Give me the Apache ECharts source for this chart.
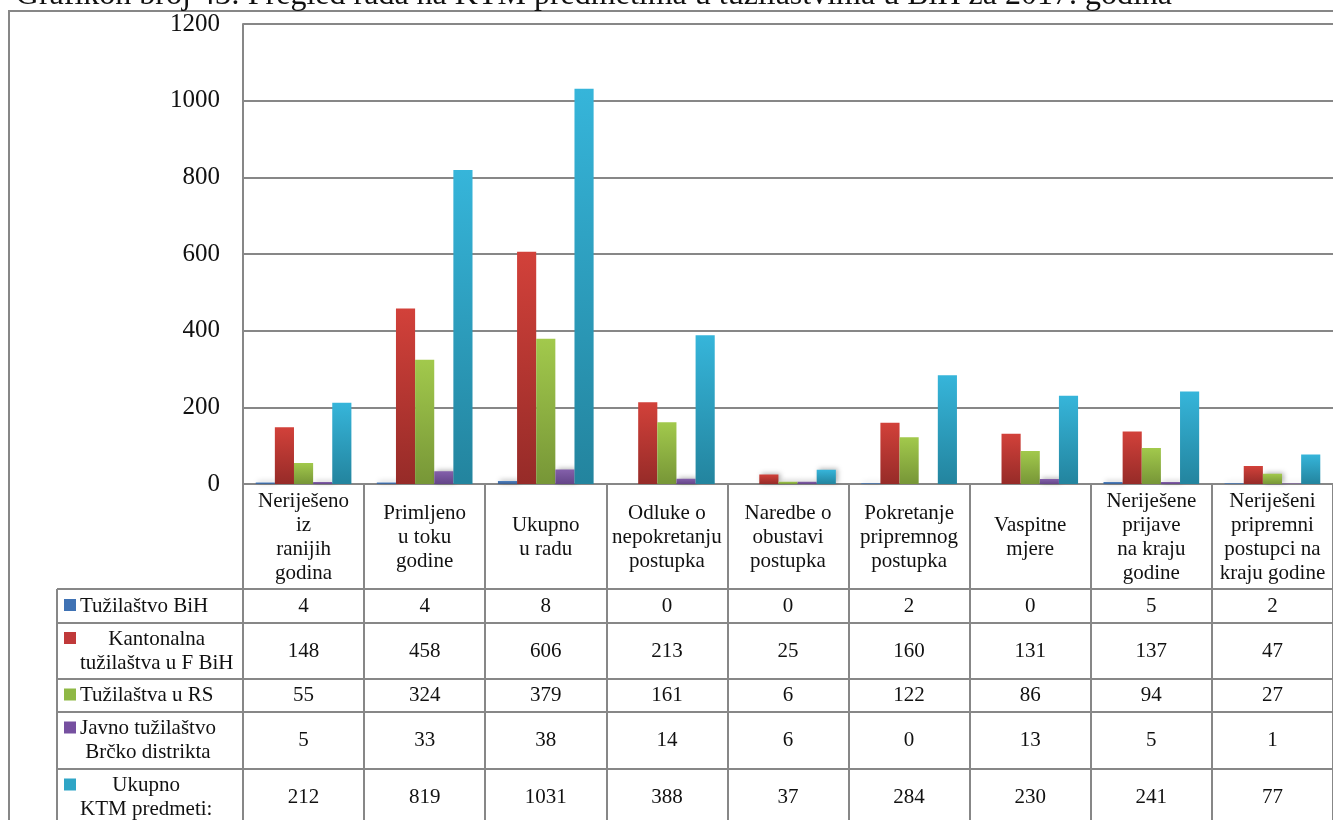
<!DOCTYPE html>
<html>
<head>
<meta charset="utf-8">
<script src="https://cdn.jsdelivr.net/npm/echarts@6/dist/echarts.min.js"></script>
<style>
html,body{margin:0;padding:0;background:#fff;}
#c{width:1333px;height:820px;}
</style>
</head>
<body>
<div id="c"></div>
<script>
// ---- data ----
const titleText = 'Grafikon broj 43: Pregled rada na KTM predmetima u tužilaštvima u BiH za 2017. godina';
const categories = [
  'Neriješeno\niz\nranijih\ngodina',
  'Primljeno\nu toku\ngodine',
  'Ukupno\nu radu',
  'Odluke o\nnepokretanju\npostupka',
  'Naredbe o\nobustavi\npostupka',
  'Pokretanje\npripremnog\npostupka',
  'Vaspitne\nmjere',
  'Neriješene\nprijave\nna kraju\ngodine',
  'Neriješeni\npripremni\npostupci na\nkraju godine'
];
const seriesNames = [
  'Tužilaštvo BiH',
  'Kantonalna\ntužilaštva u F BiH',
  'Tužilaštva u RS',
  'Javno tužilaštvo\nBrčko distrikta',
  'Ukupno\nKTM predmeti:'
];
const tuzilastvoBiH = [4, 4, 8, 0, 0, 2, 0, 5, 2];
const kantonalna    = [148, 458, 606, 213, 25, 160, 131, 137, 47];
const tuzilastvaRS  = [55, 324, 379, 161, 6, 122, 86, 94, 27];
const brcko         = [5, 33, 38, 14, 6, 0, 13, 5, 1];
const ukupno        = [212, 819, 1031, 388, 37, 284, 230, 241, 77];
const yTicks = [0, 200, 400, 600, 800, 1000, 1200];

const seriesData = [tuzilastvoBiH, kantonalna, tuzilastvaRS, brcko, ukupno];

// ---- styles / layout ----
const gradients = [
  ['#4f83c4', '#385d8f'],
  ['#d2413a', '#962b28'],
  ['#a2c94c', '#779637'],
  ['#8460ab', '#644588'],
  ['#36b5da', '#23849e']
];
const squareColors = ['#3f72b4', '#c0393a', '#8fb845', '#7650a0', '#2fa5c6'];
const lineColor = '#878787';
const font = '"Liberation Serif", "Times New Roman", serif';
const tableFontSize = 21;
const gridLeft = 243, gridTop = 24, gridWidth = 1093, gridHeight = 460;
const rowLines = [589, 623, 679, 712, 769, 826];
const tableLeft = 57;

const chart = echarts.init(document.getElementById('c'));

function grad(c) {
  return new echarts.graphic.LinearGradient(0, 0, 0, 1, [
    { offset: 0, color: c[0] }, { offset: 1, color: c[1] }
  ]);
}

const option = {
  animation: false,
  backgroundColor: '#fff',
  grid: { left: gridLeft, top: gridTop, width: gridWidth, height: gridHeight },
  xAxis: {
    type: 'category',
    data: categories,
    boundaryGap: true,
    axisLine: { show: true, lineStyle: { color: lineColor, width: 2 } },
    axisTick: { show: true, interval: 0, length: 345, lineStyle: { color: lineColor, width: 2 } },
    axisLabel: {
      interval: 0, fontFamily: font, fontSize: tableFontSize, lineHeight: 24, color: '#111',
      verticalAlign: 'middle', margin: 53
    }
  },
  yAxis: {
    type: 'value',
    min: yTicks[0], max: yTicks[yTicks.length - 1], interval: 200,
    axisLine: { show: true, lineStyle: { color: lineColor, width: 2 } },
    axisTick: { show: false },
    splitLine: { show: true, lineStyle: { color: lineColor, width: 2 } },
    axisLabel: { fontFamily: font, fontSize: 25, color: '#111', margin: 23, formatter: v => String(v) }
  },
  series: seriesData.map((d, i) => ({
    type: 'bar',
    name: seriesNames[i],
    data: d,
    barGap: '0%',
    barCategoryGap: '21%',
    itemStyle: {
      color: grad(gradients[i]),
      shadowBlur: 5, shadowColor: 'rgba(0,0,0,0.3)', shadowOffsetX: 2, shadowOffsetY: -1
    }
  }))
};
chart.setOption(option);

// ---- data table (positions from the category axis) ----
const measureCtx = document.createElement('canvas').getContext('2d');
measureCtx.font = tableFontSize + 'px ' + font;

const g = [];
// outer frame
g.push({ type: 'polyline', silent: true, shape: { points: [[9, 830], [9, 11], [1340, 11]] },
  style: { stroke: lineColor, lineWidth: 2, fill: null } });
// title (clipped at top)
g.push({ type: 'text', silent: true, x: 1172, y: -20,
  style: { text: titleText, font: '32px ' + font, fill: '#111', textAlign: 'right', textVerticalAlign: 'top' } });
// horizontal row lines
rowLines.forEach(y => {
  g.push({ type: 'line', silent: true, shape: { x1: tableLeft, y1: y, x2: 1340, y2: y },
    style: { stroke: lineColor, lineWidth: 2 } });
});
// left border of legend column
g.push({ type: 'line', silent: true, shape: { x1: tableLeft, y1: rowLines[0], x2: tableLeft, y2: 830 },
  style: { stroke: lineColor, lineWidth: 2 } });

seriesData.forEach((d, si) => {
  const top = rowLines[si], bot = rowLines[si + 1];
  const cy = (top + bot) / 2;
  d.forEach((v, ci) => {
    const x = chart.convertToPixel({ xAxisIndex: 0 }, categories[ci]);
    g.push({ type: 'text', silent: true, x: x, y: cy,
      style: { text: String(v), font: tableFontSize + 'px ' + font, fill: '#111', textAlign: 'center', textVerticalAlign: 'middle' } });
  });
  const lines = seriesNames[si].split('\n');
  const textTop = cy - lines.length * 24 / 2;
  const maxW = Math.max.apply(null, lines.map(l => measureCtx.measureText(l).width));
  g.push({ type: 'rect', silent: true, shape: { x: 64, y: textTop + 5, width: 12, height: 12 },
    style: { fill: squareColors[si] } });
  g.push({ type: 'text', silent: true, x: 80 + maxW / 2, y: cy,
    style: { text: seriesNames[si], font: tableFontSize + 'px ' + font, lineHeight: 24, fill: '#111',
      textAlign: 'center', textVerticalAlign: 'middle' } });
});

chart.setOption({ graphic: g });
</script>
</body>
</html>
